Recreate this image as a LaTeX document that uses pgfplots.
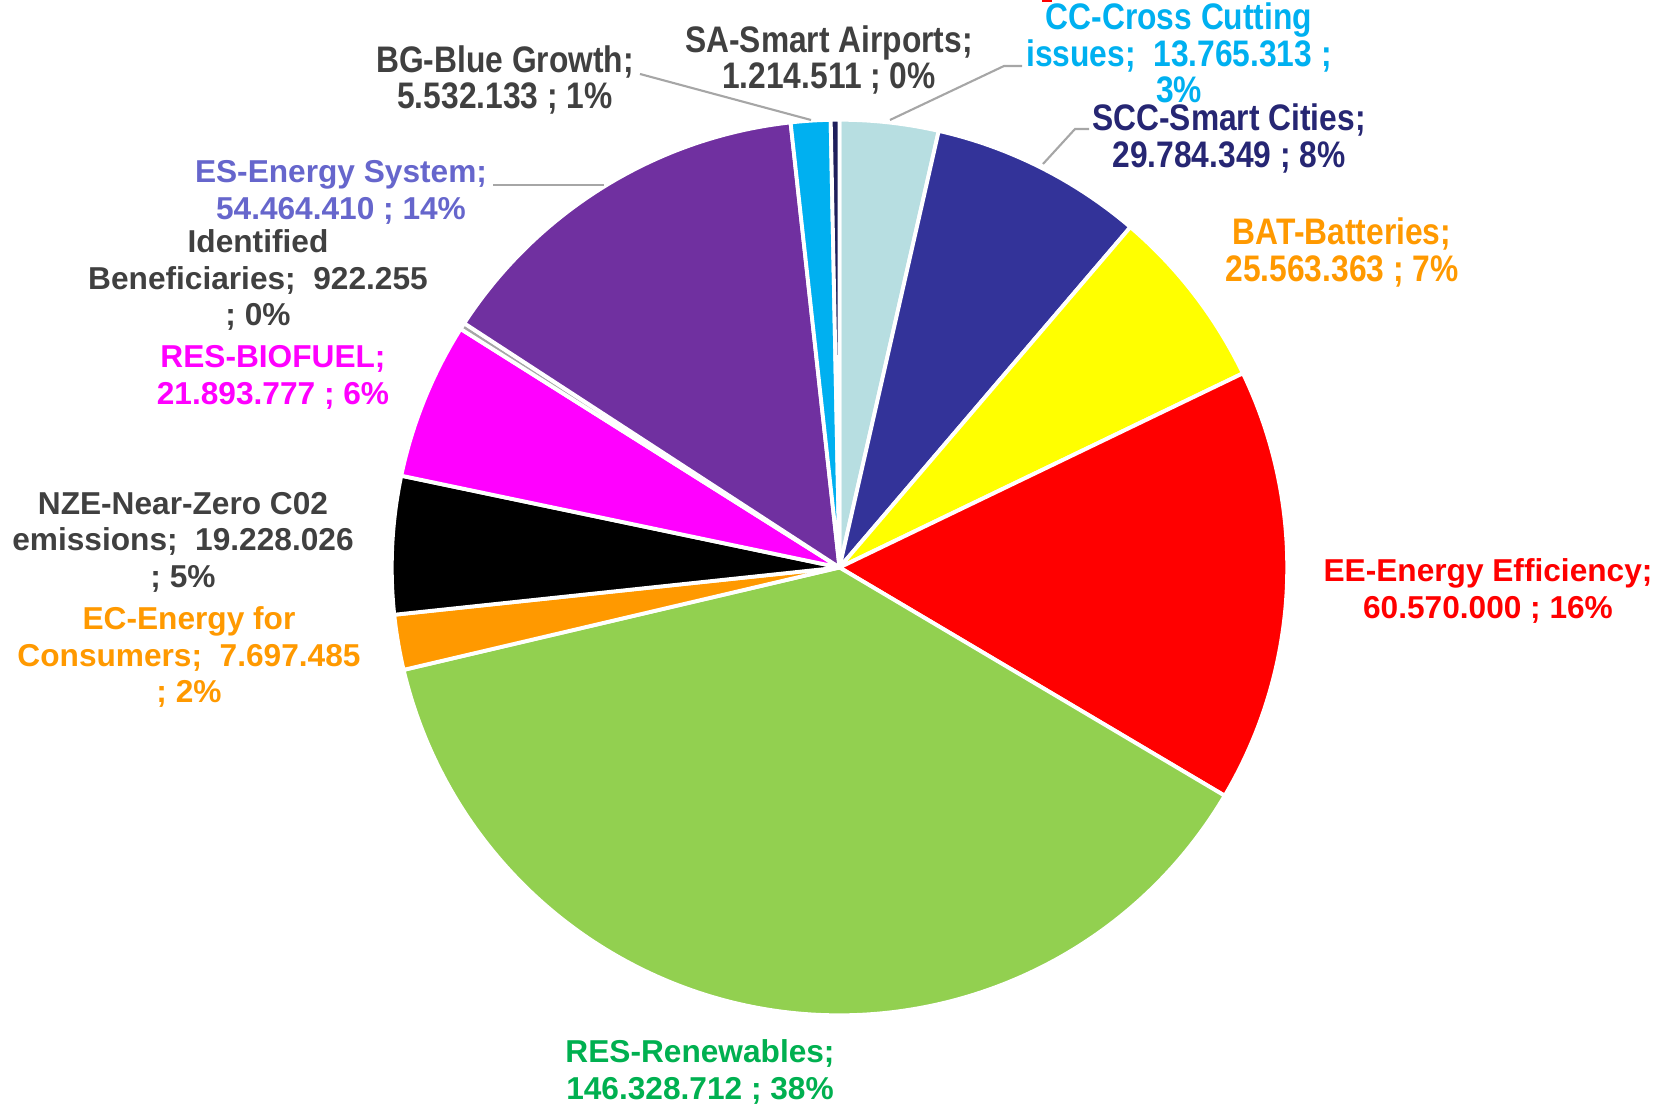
\documentclass[border=0pt]{standalone}
\usepackage{pgfplots}
\pgfplotsset{compat=1.18}
\usepackage{fontspec}
\setmainfont{Liberation Sans}
\newfontfamily\narrowfont{Liberation Sans}[FakeStretch=0.86]

\definecolor{ccC}{HTML}{B7DEE1}
\definecolor{sccC}{HTML}{333399}
\definecolor{batC}{HTML}{FFFF00}
\definecolor{eeC}{HTML}{FF0000}
\definecolor{resC}{HTML}{92D050}
\definecolor{ecC}{HTML}{FF9900}
\definecolor{nzeC}{HTML}{000000}
\definecolor{bioC}{HTML}{FF00FF}
\definecolor{idC}{HTML}{A6A6A6}
\definecolor{esC}{HTML}{7030A0}
\definecolor{bgC}{HTML}{00B0F0}
\definecolor{saC}{HTML}{1F1F5C}

\definecolor{txtGrey}{HTML}{404040}
\definecolor{txtCC}{HTML}{00B0F0}
\definecolor{txtSCC}{HTML}{262673}
\definecolor{txtOr}{HTML}{FF9900}
\definecolor{txtRed}{HTML}{FF0000}
\definecolor{txtGreen}{HTML}{00B050}
\definecolor{txtMag}{HTML}{FF00FF}
\definecolor{txtES}{HTML}{6666CC}
\definecolor{leader}{HTML}{A6A6A6}

% value / colour, clockwise from 12 o'clock
\newcommand\piedata{13765313/ccC, 29784349/sccC, 25563363/batC, 60570000/eeC,
  146328712/resC, 7697485/ecC, 19228026/nzeC, 21893777/bioC, 922255/idC,
  54464410/esC, 5532133/bgC, 1214511/saC}

\gdef\pietotal{0}
\foreach \v/\c in \piedata {\xdef\pietotal{\fpeval{\pietotal+\v}}}

\tikzset{
  lab/.style={align=center, inner sep=0pt, font=\bfseries\fontsize{9}{10.4}\selectfont},
  nlab/.style={align=center, inner sep=0pt, font=\narrowfont\bfseries\fontsize{10.5}{10.4}\selectfont},
}

\begin{document}
\begin{tikzpicture}
\begin{axis}[
  x=0.01cm, y=0.01cm,
  xmin=0, xmax=1661, ymin=0, ymax=1107,
  hide axis, clip=false,
]
\path (axis cs:0,0) rectangle (axis cs:1661,1107);
\gdef\piecum{0}
\foreach \v/\c in \piedata {
  \edef\a{\fpeval{90-360*\piecum/\pietotal}}
  \xdef\piecum{\fpeval{\piecum+\v}}
  \edef\b{\fpeval{90-360*\piecum/\pietotal}}
  \edef\cmd{\noexpand\filldraw[fill=\c, draw=white, line width=1.1pt, line join=round]
    (axis cs:839.5,539.5) -- ++(\a:4.475cm) arc[start angle=\a, end angle=\b, radius=4.475cm] -- cycle;}
  \cmd
}

% leader lines
\draw[leader, line width=0.6pt] (axis cs:640,1033) -- (axis cs:811,987);
\draw[leader, line width=0.6pt] (axis cs:890,987) -- (axis cs:1004,1041) -- (axis cs:1022,1041);
\draw[leader, line width=0.6pt] (axis cs:1043,943) -- (axis cs:1075,978) -- (axis cs:1089,978);
\draw[leader, line width=0.6pt] (axis cs:493,922) -- (axis cs:604,922);

% small cut-off red fragment at the top edge
\fill[txtRed] (axis cs:1042,1105) rectangle (axis cs:1052,1107);

% labels
\node[nlab, text=txtGrey] at (axis cs:829,1047) {SA-Smart Airports;\\1.214.511 ; 0\%};
\node[nlab, text=txtCC] at (axis cs:1179,1054) {CC-Cross Cutting\\issues;~ 13.765.313 ;\\3\%};
\node[nlab, text=txtSCC] at (axis cs:1229,968.5) {SCC-Smart Cities;\\29.784.349 ; 8\%};
\node[nlab, text=txtOr] at (axis cs:1342,854.5) {BAT-Batteries;\\25.563.363 ; 7\%};
\node[nlab, text=txtGrey] at (axis cs:505,1027) {BG-Blue Growth;\\5.532.133 ; 1\%};
\node[lab, text=txtRed] at (axis cs:1488,516) {EE-Energy Efficiency;\\60.570.000 ; 16\%};
\node[lab, text=txtGreen] at (axis cs:700,35) {RES-Renewables;\\146.328.712 ; 38\%};
\node[lab, text=txtOr] at (axis cs:189,450) {EC-Energy for\\Consumers;~ 7.697.485\\; 2\%};
\node[lab, text=txtGrey] at (axis cs:183,565) {NZE-Near-Zero C02\\emissions;~ 19.228.026\\; 5\%};
\node[lab, text=txtMag] at (axis cs:273,729.5) {RES-BIOFUEL;\\21.893.777 ; 6\%};
\node[lab, text=txtGrey] at (axis cs:258,827) {Identified\\Beneficiaries;~ 922.255\\; 0\%};
\node[lab, text=txtES] at (axis cs:341,914.5) {ES-Energy System;\\54.464.410 ; 14\%};
\end{axis}
\end{tikzpicture}
\end{document}
